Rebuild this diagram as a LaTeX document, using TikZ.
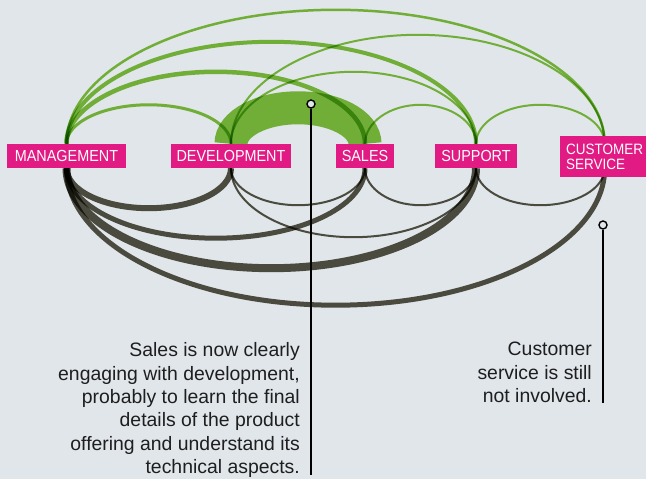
\documentclass[tikz,border=0pt]{standalone}
\usepackage{fontspec}
\setmainfont{Liberation Sans}
\newfontfamily\etiqueta[FakeStretch=0.9]{Liberation Sans}
\usetikzlibrary{calc,backgrounds}

\definecolor{fondo}{RGB}{225,230,235}
\definecolor{rosa}{RGB}{226,27,132}
\definecolor{verde}{RGB}{129,193,61}
\definecolor{oscuro}{RGB}{84,83,69}
\definecolor{texto}{RGB}{30,30,30}

\begin{document}
\begin{tikzpicture}[x=1pt, y=1pt,
    dept/.style={
        fill=rosa,
        text=white,
        font=\etiqueta\fontsize{16}{15}\selectfont,
        minimum height=24pt,
        inner xsep=6pt,
        inner ysep=0pt
    },
    arriba/.style={
        draw=verde
    },
    abajo/.style={
        draw=oscuro
    },
    banda/.style={
        draw=verde,
        line width=33pt
    },
    nota/.style={
        text=texto,
        align=right,
        inner sep=0pt,
        font=\fontsize{19.4}{23.3}\selectfont
    },
    punto/.style={
        circle,
        draw=black,
        line width=1.4pt,
        fill=fondo,
        minimum size=8pt,
        inner sep=0pt
    }
]
\useasboundingbox (0,0) rectangle (646,479);

%------------------------------------------------
% Departamentos
%------------------------------------------------
\node[dept, minimum width=119pt] (mgmt) at (66.5,323) {MANAGEMENT};
\node[dept, minimum width=120pt] (dev) at (231,323) {DEVELOPMENT};
\node[dept, minimum width=56pt] (sales) at (365,323) {SALES};
\node[dept, minimum width=78pt] (support) at (476,323) {SUPPORT};
\node[dept, font=\etiqueta\fontsize{15}{15}\selectfont, anchor=west,
    align=left, minimum height=41pt] (cs) at (560,322.5) {CUSTOMER\\SERVICE};

%------------------------------------------------
% Arcos
%------------------------------------------------
\begin{scope}[on background layer]
    \fill[fondo] (0,0) rectangle (646,479);
    \begin{scope}[blend mode=multiply]

    % banda ancha
    \draw[banda] let \p1=(dev.north), \p2=(sales.north) in
        (\p1) arc[start angle=180, end angle=0,
        x radius={(\x2-\x1)/2}, y radius=36pt];

    % arcos verdes (arriba)
    \foreach \a/\b/\h/\w in {mgmt/dev/39/3, mgmt/sales/72/4.5,
        mgmt/support/102/4, mgmt/cs/134/2.5, dev/support/72/2,
        dev/cs/109/2, sales/support/39/2, support/cs/39/2} {
        \draw[arriba, line width=\w pt] let \p1=(\a.north), \p2=(\b.north) in
            (\p1) arc[start angle=180, end angle=0,
            x radius={(\x2-\x1)/2}, y radius=\h pt];
    }

    % arcos oscuros (abajo)
    \foreach \a/\b/\h/\w in {mgmt/dev/40/6, mgmt/sales/70/5,
        mgmt/support/100/8, mgmt/cs/137/5, dev/sales/37/2,
        dev/support/69/2, sales/support/37/2, support/cs/37/2} {
        \draw[abajo, line width=\w pt] let \p1=(\a.south), \p2=(\b.south) in
            (\p1) arc[start angle=180, end angle=360,
            x radius={(\x2-\x1)/2}, y radius=\h pt];
    }

    \end{scope}
\end{scope}

%------------------------------------------------
% Notas
%------------------------------------------------
\node[punto] (puntoventas) at (311,375) {};
\coordinate (finventas) at (311,4);
\draw[line width=1.4pt] (puntoventas) -- (finventas);
\node[nota, anchor=north east] (notaventas) at (300,136.4)
    {Sales is now clearly\\engaging with development,\\probably to learn the final\\details of the product\\offering and understand its\\technical aspects.};

\node[punto] (puntocs) at (603,254) {};
\coordinate (fincs) at (603,76);
\draw[line width=1.4pt] (puntocs) -- (fincs);
\node[nota, anchor=north east] (notacs) at (592,137)
    {Customer\\service is still\\not involved.};

\end{tikzpicture}
\end{document}
